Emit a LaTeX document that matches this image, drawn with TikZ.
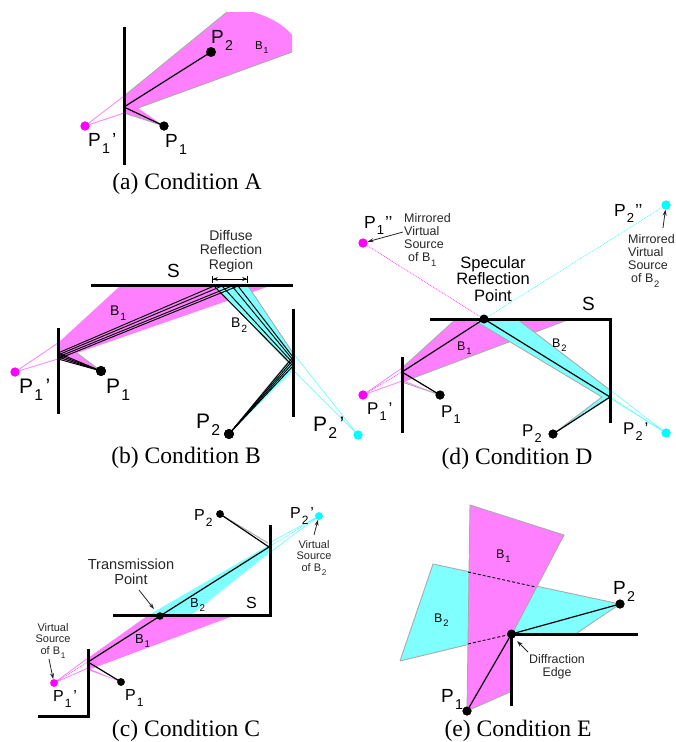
\documentclass[tikz,border=0pt]{standalone}
\usepackage{fontspec}
\setmainfont{Liberation Sans}
\newfontfamily\capfont{Liberation Serif}
\usetikzlibrary{arrows.meta}
\definecolor{mag}{RGB}{255,128,255}
\definecolor{cya}{RGB}{128,255,255}
\definecolor{magd}{RGB}{255,0,255}
\definecolor{cyad}{RGB}{0,255,255}
\definecolor{edge}{RGB}{170,170,170}
\newcommand{\sbd}[1]{\hspace{.06em}\raisebox{-.38em}{\scalebox{.75}{#1}}}
\newcommand{\prm}{\hspace{.12em}\raisebox{0em}{'}}
\newcommand{\dprm}{\hspace{.05em}'\hspace{-.02em}'}
\tikzset{
  x=1pt,y=-1pt,
  wall/.style={line width=3pt,line cap=butt,line join=miter},
  ray/.style={line width=1.2pt,black,line join=round},
  fanray/.style={line width=.95pt,black,line join=round},
  magb/.style={fill=mag,draw=none},
  cyab/.style={fill=cya,draw=none},
  grey/.style={draw=edge,line width=.9pt},
  magl/.style={draw=mag,line width=.8pt},
  cyal/.style={draw=cya,line width=.8pt},
  magdots/.style={draw=magd!75!white,line width=.8pt,densely dotted},
  cyadots/.style={draw=cyad!75!white,line width=.8pt,densely dotted},
  bdot/.style={circle,fill=black,inner sep=0pt,minimum size=#1},
  bdot/.default=10pt,
  mdot/.style={circle,fill=magd,inner sep=0pt,minimum size=#1},
  mdot/.default=9pt,
  cdot/.style={circle,fill=cyad,inner sep=0pt,minimum size=#1},
  cdot/.default=9pt,
  plab/.style={anchor=base west,inner sep=0pt,font=\fontsize{#1}{#1}\selectfont},
  plab/.default=19,
  blab/.style={anchor=base west,inner sep=0pt,font=\fontsize{#1}{#1}\selectfont},
  note/.style={inner sep=0pt,align=center,text=black!85},
  capt/.style={anchor=base,inner sep=0pt,font=\capfont\fontsize{23.6}{24}\selectfont},
  point/.style={-{Stealth[length=6pt,width=4pt]},line width=.8pt,black!85},
}
\begin{document}
\begin{tikzpicture}
\useasboundingbox (0,0) rectangle (676,742);
% ---------- (a)
\coordinate (a1) at (124,96);
\coordinate (a2) at (124,113);
\coordinate (ar) at (124,107);
\node[bdot] (aP2) at (211,52) {};
\node[bdot,minimum size=9pt] (aP1) at (164,126) {};
\node[mdot] (aV) at (85,126) {};
\fill[mag] (a1) -- (227,12) -- (253,12) .. controls (270,17) and (284,25) .. (292,35) -- (292,52) -- (138,108) -- (aP1.center) -- (a2) -- cycle;
\draw[grey] (a1) -- (227,12) (292,52) -- (138,108) (aP1.center) -- (a2);
\draw[magl] (aV.center) -- (a1) (aV.center) -- (a2);
\draw[ray] (aP1.center) -- (ar) -- (aP2.center);
\draw[wall] (124.5,27) -- (124.5,165);
\node[bdot] at (aP2) {};
\node[bdot,minimum size=9pt] at (aP1) {};
\node[mdot] at (aV) {};
\node[plab] (aL2) at (211,43) {P\sbd{2}};
\node[blab=11.5] (aLB) at (255,49) {B\sbd{1}};
\node[plab] (aLV) at (88,146) {P\sbd{1}\prm};
\node[plab] (aL1) at (165,147) {P\sbd{1}};
\node[capt] (capa) at (187,189) {(a) Condition A};
% ---------- (b)
\node[bdot] (bP1) at (101,371) {};
\node[mdot] (bV1) at (15,372) {};
\node[bdot] (bP2) at (229,434) {};
\node[cdot] (bV2) at (358,435) {};
\fill[mag] (58,343) -- (120,286) -- (270,286) -- (77,353) -- (bP1.center) -- (58,359) -- cycle;
\draw[grey] (77,353) -- (bP1.center);
\draw[magl] (bV1.center) -- (58,343) (bV1.center) -- (58,359);
\fill[cya] (213,286) -- (248,286) -- (293,353) -- (293,370) -- (bP2.center) -- (288,362) -- (220,292) -- cycle;
\draw[grey] (220,292) -- (288,362) -- (bP2.center) (248,286) -- (293,353);
\draw[cyal] (bV2.center) -- (293,353) (bV2.center) -- (293,370);
\foreach \ya/\xs/\yb in {353/214/366,355/222/363,357/232/360,359/238/357}{
  \draw[fanray] (bP1.center) -- (58,\ya) -- (\xs,286) -- (293,\yb) -- (bP2.center);
}
\draw[wall] (58,328) -- (58,414);
\draw[wall] (293,309) -- (293,417);
\draw[wall] (91,285.5) -- (293,285.5);
\node[bdot] at (bP1) {};
\node[mdot] at (bV1) {};
\node[bdot] at (bP2) {};
\node[cdot] at (bV2) {};
\draw[black,line width=.8pt,{Bar[width=7pt]Stealth[length=5pt,width=4pt]}-{Stealth[length=5pt,width=4pt]Bar[width=7pt]}] (212,279) -- (248,279);
\node[note,font=\fontsize{14}{14.5}\selectfont] (bN) at (231,251) {Diffuse\\Reflection\\Region};
\node[plab] (bS) at (167,277) {S};
\node[blab=14] (bB1) at (110,315) {B\sbd{1}};
\node[blab=14] (bB2) at (231,327) {B\sbd{2}};
\node[plab=21] (bL1V) at (19,393) {P\sbd{1}\prm};
\node[plab=21] (bL1) at (106,393) {P\sbd{1}};
\node[plab=21] (bL2) at (196,428) {P\sbd{2}};
\node[plab=21] (bL2V) at (313,431) {P\sbd{2}\prm};
\node[capt] (capb) at (186,463) {(b) Condition B};
% ---------- (d)
\node[bdot,minimum size=9pt] (dP1) at (440,395) {};
\node[mdot] (dV1) at (363,395) {};
\node[mdot] (dM1) at (363,243) {};
\node[bdot,minimum size=9pt] (dP2) at (553,434) {};
\node[cdot] (dV2) at (666,433) {};
\node[cdot] (dM2) at (666,205) {};
\coordinate (dR) at (484,319);
\fill[mag] (402,368) -- (456,319) -- (570,319) -- (405,381) -- (dP1.center) -- (402,381) -- cycle;
\draw[grey] (402,368) -- (456,319) (570,319) -- (405,381) (402,382) -- (dP1.center);
\draw[magl] (dV1.center) -- (402,368) (dV1.center) -- (402,381);
\draw[magdots] (dV1.center) -- (402,372);
\draw[magdots] (dM1.center) -- (dR);
\draw[cyadots] (dM2.center) -- (dR);
\fill[cya] (472,319) -- (517,319) -- (610,390) -- (610,398) -- (dP2.center) -- (602,397) -- cycle;
\draw[grey] (472,319) -- (602,397) -- (dP2.center) (517,319) -- (610,390);
\draw[cyal] (dV2.center) -- (610,390) (dV2.center) -- (610,398);
\draw[cyadots] (dV2.center) -- (610,397);
\draw[ray] (dP1.center) -- (402,372) -- (dR) -- (610,397) -- (dP2.center);
\draw[wall] (402,357) -- (402,433);
\draw[wall] (430,319) -- (610,319) -- (610,423);
\node[bdot,minimum size=9pt] at (dR) {};
\node[bdot,minimum size=9pt] at (dP1) {};
\node[mdot] at (dV1) {};
\node[mdot] at (dM1) {};
\node[bdot,minimum size=9pt] at (dP2) {};
\node[cdot] at (dV2) {};
\node[cdot] at (dM2) {};
\node[plab=17.5] (dLM1) at (364,228) {P\sbd{1}\dprm};
\node[plab=17.5] (dLM2) at (614,216) {P\sbd{2}\dprm};
\node[note,font=\fontsize{12.5}{13}\selectfont,align=left,anchor=north west] (dN1) at (404,213) {Mirrored\\Virtual\\Source\\\hspace*{4pt}of B\sbd{1}};
\node[note,font=\fontsize{12.5}{13}\selectfont,align=left,anchor=north west] (dN2) at (628,234.5) {Mirrored\\Virtual\\Source\\\hspace*{3pt}of B\sbd{2}};
\draw[point] (403,232) -- (dM1);
\draw[point] (663,228) -- (dM2);
\node[note,text=black,font=\fontsize{16.5}{16.5}\selectfont] (dSp) at (493,279) {Specular\\Reflection\\Point};
\node[plab] (dS) at (582,310) {S};
\node[blab=12.5] (dB1) at (457,350) {B\sbd{1}};
\node[blab=12.5] (dB2) at (552,347) {B\sbd{2}};
\node[plab=17] (dL1V) at (367,414) {P\sbd{1}\prm};
\node[plab=17] (dL1) at (441,417) {P\sbd{1}};
\node[plab=17] (dL2) at (522,436) {P\sbd{2}};
\node[plab=17] (dL2V) at (623,434) {P\sbd{2}\prm};
\node[capt] (capd) at (517,464) {(d) Condition D};
% ---------- (c)
\node[bdot,minimum size=7.5pt] (cP1) at (121,682) {};
\node[mdot=7.5pt] (cV1) at (54,683) {};
\node[bdot,minimum size=7.5pt] (cP2) at (220,514) {};
\node[cdot=7.5pt] (cV2) at (319,516) {};
\node[bdot,minimum size=7.5pt] (cT) at (160,616) {};
\coordinate (cRl) at (88,662);
\coordinate (cRr) at (269,547);
\fill[mag] (88,658) -- (147,616) -- (233,616) -- (88,670) -- (cP1.center) -- (88,668) -- cycle;
\fill[cya] (147,616) -- (269,545) -- (269,553) -- (190,616) -- cycle;
\draw[grey] (cP2.center) -- (268,543);
\draw[magl] (cV1.center) -- (88,658) (cV1.center) -- (88,668);
\draw[magdots] (cV1.center) -- (cRl);
\draw[cyal] (cV2.center) -- (269,543) (cV2.center) -- (269,553);
\draw[cyadots] (cV2.center) -- (cRr);
\draw[ray] (cP1.center) -- (cRl) -- (cT.center) -- (cRr) -- (cP2.center);
\draw[wall] (88,649) -- (88,716) -- (38,716);
\draw[wall] (113,615.5) -- (270,615.5) -- (270,525);
\node[bdot,minimum size=7.5pt] at (cT) {};
\node[bdot,minimum size=7.5pt] at (cP1) {};
\node[mdot=7.5pt] at (cV1) {};
\node[bdot,minimum size=7.5pt] at (cP2) {};
\node[cdot=7.5pt] at (cV2) {};
\node[plab=16] (cL2) at (194,520) {P\sbd{2}};
\node[plab=16] (cL2V) at (290,518) {P\sbd{2}\prm};
\node[note,font=\fontsize{11}{11.5}\selectfont] (cN2) at (314,558) {Virtual\\Source\\of B\sbd{2}};
\draw[point] (314,535) -- (cV2);
\node[note,font=\fontsize{14.6}{15.5}\selectfont] (cNT) at (131,572) {Transmission\\Point};
\draw[point] (139,590) -- (154,609);
\node[plab=16] (cS) at (246,608) {S};
\node[blab=13] (cB2) at (190,607) {B\sbd{2}};
\node[blab=13] (cB1) at (135,643) {B\sbd{1}};
\node[note,font=\fontsize{11}{11.5}\selectfont] (cN1) at (53,641) {Virtual\\Source\\of B\sbd{1}};
\draw[point] (49,659) -- (cV1);
\node[plab=16] (cL1V) at (53,701) {P\sbd{1}\prm};
\node[plab=16] (cL1) at (125,700) {P\sbd{1}};
\node[capt] (capc) at (186,736.5) {(c) Condition C};
% ---------- (e)
\node[bdot,minimum size=9pt] (eP1) at (467,711) {};
\node[bdot,minimum size=9pt] (eP2) at (620,604) {};
\node[bdot,minimum size=9pt] (eE) at (511.5,634) {};
\fill[cya] (433,564) -- (eP2.center) -- (577,633) -- (512,634) -- (400,661) -- cycle;
\draw[grey] (400,661) -- (433,564) -- (eP2.center) -- (577,633) (400,661) -- (eE.center);
\fill[mag] (470,505) -- (564,535) -- (512,634) -- (510,692) -- (eP1.center) -- cycle;
\draw[grey] (eP1.center) -- (470,505) -- (564,535) -- (512,634) (510,692) -- (eP1.center);
\draw[black,line width=.9pt,densely dashed] (468,572) -- (536,587);
\draw[black,line width=.9pt,densely dashed] (468,644) -- (eE.center);
\draw[ray] (eP1.center) -- (eE.center) -- (eP2.center);
\draw[wall] (511.5,706) -- (511.5,634) -- (638,634);
\node[bdot,minimum size=9pt] at (eP1) {};
\node[bdot,minimum size=9pt] at (eP2) {};
\node[bdot,minimum size=9pt] at (eE) {};
\node[plab] (eL2) at (613,594) {P\sbd{2}};
\node[plab] (eL1) at (441,702) {P\sbd{1}};
\node[blab=12.5] (eB1) at (496,558) {B\sbd{1}};
\node[blab=12.5] (eB2) at (434,622) {B\sbd{2}};
\node[note,font=\fontsize{12.4}{12.5}\selectfont] (eN) at (557,667) {Diffraction\\Edge};
\draw[point] (528,652) -- (517,641);
\node[capt] (cape) at (518,736.5) {(e) Condition E};
\end{tikzpicture}
\end{document}
